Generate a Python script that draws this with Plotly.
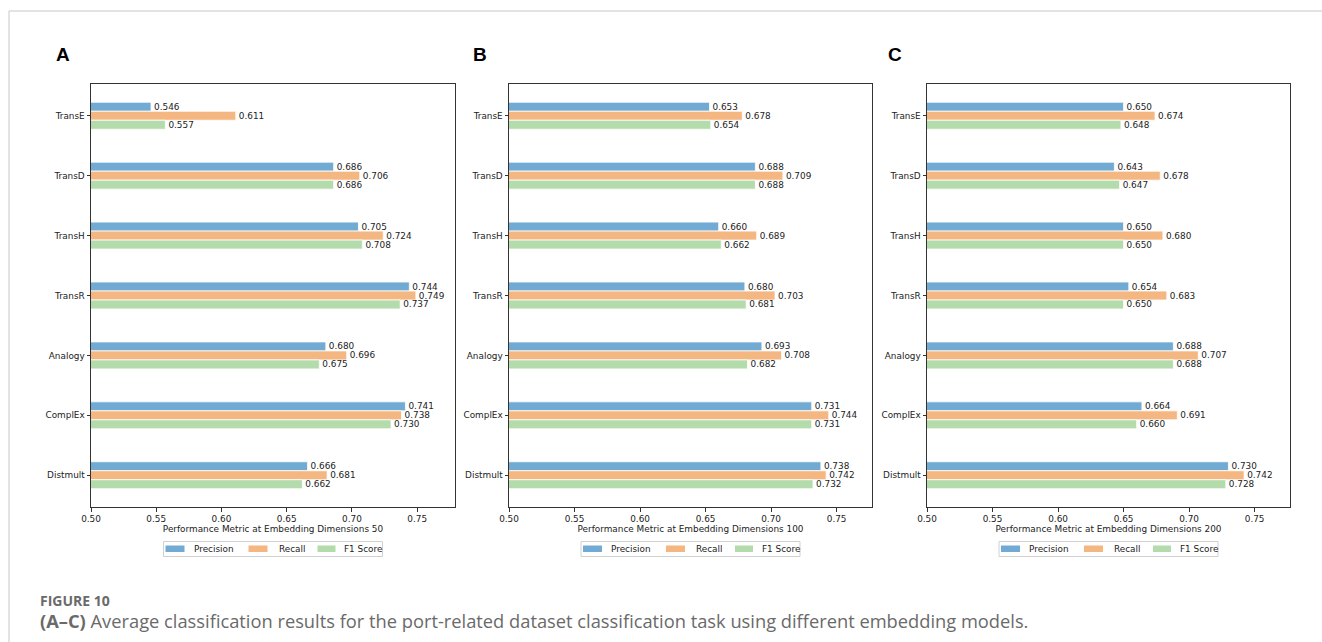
import plotly.graph_objects as go

# Embedding models compared in each panel
models = ["TransE", "TransD", "TransH", "TransR", "Analogy", "ComplEx", "Distmult"]

# Embedding dimension 50
precision_50 = [0.546, 0.686, 0.705, 0.744, 0.680, 0.741, 0.666]
recall_50 = [0.611, 0.706, 0.724, 0.749, 0.696, 0.738, 0.681]
f1_50 = [0.557, 0.686, 0.708, 0.737, 0.675, 0.730, 0.662]

# Embedding dimension 100
precision_100 = [0.653, 0.688, 0.660, 0.680, 0.693, 0.731, 0.738]
recall_100 = [0.678, 0.709, 0.689, 0.703, 0.708, 0.744, 0.742]
f1_100 = [0.654, 0.688, 0.662, 0.681, 0.682, 0.731, 0.732]

# Embedding dimension 200
precision_200 = [0.650, 0.643, 0.650, 0.654, 0.688, 0.664, 0.730]
recall_200 = [0.674, 0.678, 0.680, 0.683, 0.707, 0.691, 0.742]
f1_200 = [0.648, 0.647, 0.650, 0.650, 0.688, 0.660, 0.728]

dimensions = [50, 100, 200]
panel_letters = ["A", "B", "C"]
metric_names = ["Precision", "Recall", "F1 Score"]
x_ticks = [0.50, 0.55, 0.60, 0.65, 0.70, 0.75]
x_max = [0.779, 0.777, 0.777]

caption_head = "FIGURE 10"
caption_body = ("(A\u2013C)", " Average classification results for the port-related dataset "
                "classification task using different embedding models.")

panels = [
    (precision_50, recall_50, f1_50),
    (precision_100, recall_100, f1_100),
    (precision_200, recall_200, f1_200),
]

colors = ["#71aad2", "#f5b781", "#b4dbab"]

W, H = 1322, 642
FONT = "DejaVu Sans"
FS = 8.9

# panel placement in pixels (left, right)
x_px = [(91, 455), (509, 872), (927, 1290)]
y_top, y_bot = 84, 507
letter_x = [54, 471, 886]

fig = go.Figure()

for p, series in enumerate(panels):
    sfx = "" if p == 0 else str(p + 1)
    for name, vals, col in zip(metric_names, series, colors):
        fig.add_trace(go.Bar(
            x=vals, y=models, orientation="h", name=name,
            marker=dict(color=col, line=dict(color="white", width=0.8)),
            text=vals, texttemplate="%{x:.3f}", textposition="outside",
            textfont=dict(family=FONT, size=FS, color="#222"),
            constraintext="none", cliponaxis=False, textangle=0,
            xaxis="x" + sfx, yaxis="y" + sfx, showlegend=False,
            hoverinfo="skip",
        ))

layout = dict(
    width=W, height=H,
    margin=dict(l=0, r=0, t=0, b=0, autoexpand=False),
    paper_bgcolor="white", plot_bgcolor="white",
    barmode="group", bargap=0.55, bargroupgap=0,
    font=dict(family=FONT, size=FS, color="#222"),
    showlegend=False,
)

annotations = []
shapes = []


def px_x(v):
    return v / W


def px_y(v):
    return 1 - v / H


for p in range(3):
    sfx = "" if p == 0 else str(p + 1)
    x0, x1 = x_px[p]
    layout["xaxis" + sfx] = dict(
        domain=[x0 / W, x1 / W], anchor="y" + sfx, automargin=False,
        range=[0.5, x_max[p]], tickvals=x_ticks, tickformat=".2f",
        showgrid=False, zeroline=False,
        showline=True, linecolor="#333", linewidth=1, mirror=True,
        ticks="outside", ticklen=3.5, tickcolor="#333",
        tickfont=dict(family=FONT, size=FS, color="#222"),
        title=dict(text=f"Performance Metric at Embedding Dimensions {dimensions[p]}",
                   font=dict(family=FONT, size=FS, color="#222"), standoff=2),
    )
    layout["yaxis" + sfx] = dict(
        domain=[1 - y_bot / H, 1 - y_top / H], anchor="x" + sfx, automargin=False,
        type="category", categoryorder="array", categoryarray=models,
        range=[6.53, -0.53],
        showgrid=False, zeroline=False,
        showline=True, linecolor="#333", linewidth=1, mirror=True,
        ticks="outside", ticklen=3.5, tickcolor="#333",
        tickfont=dict(family=FONT, size=FS, color="#222"),
    )

    # legend box below each panel
    c = (x0 + x1) / 2
    ly0, ly1 = 541.5, 556.5
    shapes.append(dict(type="rect", xref="paper", yref="paper",
                       x0=px_x(c - 109.5), x1=px_x(c + 109.5),
                       y0=px_y(ly1), y1=px_y(ly0),
                       line=dict(color="#d0d0d0", width=1), fillcolor="white"))
    patch_pos = [(-107.5, -88.5, -81.5), (-24.5, -5.5, 3.5), (44.5, 62.5, 69.5)]
    for (pa, pb, tx), name, col in zip(patch_pos, metric_names, colors):
        shapes.append(dict(type="rect", xref="paper", yref="paper",
                           x0=px_x(c + pa), x1=px_x(c + pb),
                           y0=px_y(552), y1=px_y(545.5),
                           line=dict(width=0), fillcolor=col))
        annotations.append(dict(
            text=name, xref="paper", yref="paper",
            x=px_x(c + tx), y=px_y(549), xanchor="left", yanchor="middle",
            showarrow=False, font=dict(family=FONT, size=FS, color="#222"),
        ))

    annotations.append(dict(
        text="<b>" + panel_letters[p] + "</b>", xref="paper", yref="paper",
        x=px_x(letter_x[p]), y=px_y(55), xanchor="left", yanchor="middle",
        showarrow=False, font=dict(family="Liberation Sans", size=19, color="black"),
    ))

# figure caption
annotations.append(dict(
    text="<b>" + caption_head + "</b>", xref="paper", yref="paper",
    x=px_x(38), y=px_y(600), xanchor="left", yanchor="middle", showarrow=False,
    font=dict(family="Open Sans", size=14, color="#6a6a6a"),
))
annotations.append(dict(
    text="<b>" + caption_body[0] + "</b>" + caption_body[1], xref="paper", yref="paper",
    x=px_x(38), y=px_y(620), xanchor="left", yanchor="middle", showarrow=False,
    font=dict(family="Open Sans", size=18.3, color="#6a6a6a"),
))

# page frame lines
shapes.append(dict(type="line", xref="paper", yref="paper",
                   x0=px_x(9), x1=1, y0=px_y(11), y1=px_y(11),
                   line=dict(color="#c8c8c8", width=1)))
shapes.append(dict(type="line", xref="paper", yref="paper",
                   x0=px_x(9), x1=px_x(9), y0=0, y1=px_y(11),
                   line=dict(color="#c8c8c8", width=1)))

layout["annotations"] = annotations
layout["shapes"] = shapes
fig.update_layout(**layout)

fig.write_html("out.html")
